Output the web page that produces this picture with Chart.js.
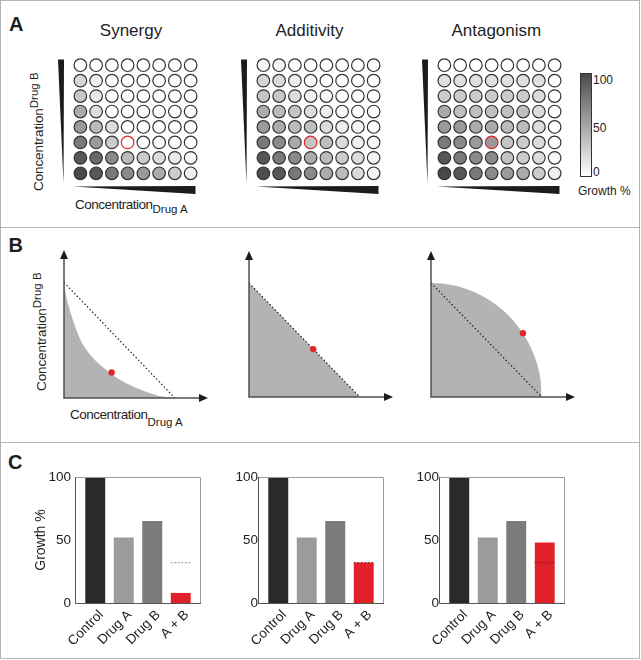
<!DOCTYPE html>
<html>
<head>
<meta charset="utf-8">
<title>Drug combination effects</title>
<script src="https://cdn.jsdelivr.net/npm/chart.js@4.4.1/dist/chart.umd.min.js"></script>
<style>
  html, body { margin: 0; padding: 0; background: #fff; }
  body {
    width: 641px; height: 660px; position: relative; overflow: hidden;
    font-family: "Liberation Sans", Arial, Helvetica, sans-serif; color: #1e1e1e;
  }
  canvas { position: absolute; }
  .frame { position: absolute; left: 0; top: 0; width: 638px; height: 657px; border: 1px solid #b4b4b4; }
  .rule { position: absolute; left: 0; width: 640px; height: 1px; background: #b4b4b4; }
  .txt { position: absolute; white-space: nowrap; line-height: 1; }
  .letter { font-weight: bold; font-size: 20px; }
  .title { font-size: 17px; transform: translate(-50%, -50%); }
  .conc { font-size: 13.5px; letter-spacing: -0.5px; }
  .conc sub, .conc sup { font-size: 11.5px; letter-spacing: 0; line-height: 0; }
  .rot { transform-origin: 0 0; transform: rotate(-90deg); letter-spacing: -0.1px; }
  .cbar { position: absolute; left: 580px; top: 73px; width: 10px; height: 102px;
          border: 1px solid #333; background: linear-gradient(#4b4b4b, #ffffff); }
  .cb { font-size: 12px; transform: translateY(-50%); }
</style>
</head>
<body>
<div class="frame"></div>
<div class="rule" style="top:227px"></div>
<div class="rule" style="top:442px"></div>

<div class="txt letter" style="left:9px;top:14.4px">A</div>
<div class="txt letter" style="left:8.5px;top:235.4px">B</div>
<div class="txt letter" style="left:8px;top:452.4px">C</div>

<div class="txt title" style="left:131px;top:29.5px">Synergy</div>
<div class="txt title" style="left:309.5px;top:29.5px">Additivity</div>
<div class="txt title" style="left:496.3px;top:29.5px">Antagonism</div>

<div class="txt conc" style="left:75px;top:197.9px">Concentration<sub style="vertical-align:-4px">Drug A</sub></div>
<div class="txt conc rot" style="left:32.4px;top:191px">Concentration<sup style="vertical-align:4.7px">Drug B</sup></div>
<div class="txt conc" style="left:70px;top:407.9px">Concentration<sub style="vertical-align:-7.4px">Drug A</sub></div>
<div class="txt conc rot" style="left:34.5px;top:391px">Concentration<sup style="vertical-align:4.7px">Drug B</sup></div>

<div class="cbar"></div>
<div class="txt cb" style="left:593px;top:80px">100</div>
<div class="txt cb" style="left:593px;top:127.5px">50</div>
<div class="txt cb" style="left:593px;top:172px">0</div>
<div class="txt cb" style="left:578px;top:191px">Growth %</div>

<script>
// ---- data ----
// panel A: growth % per well, top row = highest drug B, left column = lowest drug A
const synergyGrid = [
  [0, 0, 0, 0, 0, 0, 0, 0],
  [22, 9, 0, 0, 0, 0, 0, 0],
  [30, 12, 0, 0, 0, 0, 0, 0],
  [46, 19, 0, 0, 0, 0, 0, 0],
  [55, 37, 19, 0, 0, 0, 0, 0],
  [73, 55, 28, 0, 0, 0, 0, 0],
  [92, 82, 64, 37, 28, 19, 12, 4],
  [100, 92, 73, 64, 55, 46, 28, 9]
];
const additivityGrid = [
  [6, 6, 0, 0, 0, 0, 0, 0],
  [23, 21, 9, 2, 0, 0, 0, 0],
  [32, 30, 19, 9, 4, 0, 0, 0],
  [46, 37, 32, 19, 9, 3, 0, 0],
  [55, 46, 37, 35, 19, 9, 4, 0],
  [73, 64, 46, 32, 35, 19, 9, 3],
  [92, 73, 64, 46, 37, 28, 19, 6],
  [97, 92, 73, 64, 46, 37, 19, 6]
];
const antagonismGrid = [
  [0, 0, 0, 0, 0, 0, 0, 0],
  [17, 17, 17, 17, 17, 17, 17, 0],
  [28, 28, 28, 28, 28, 28, 19, 0],
  [46, 35, 35, 35, 35, 35, 19, 0],
  [55, 55, 46, 46, 37, 37, 19, 0],
  [73, 64, 55, 55, 32, 28, 19, 0],
  [92, 73, 64, 64, 32, 28, 19, 4],
  [100, 92, 73, 64, 55, 46, 28, 9]
];
const highlightWell = [5, 3]; // row, column

// panel B: isoboles (fraction of single-drug dose)
const synergyIsoX = [0, 0.02, 0.05, 0.1, 0.15, 0.2, 0.3, 0.4, 0.5, 0.6, 0.7, 0.8, 0.9, 1];
const synergyIsoY = [1, 0.88, 0.77, 0.62, 0.5, 0.42, 0.31, 0.23, 0.16, 0.11, 0.07, 0.035, 0.01, 0];
const additivityIsoX = [0, 1];
const additivityIsoY = [1, 0];
const antagonismIsoX = [0, 0.1, 0.2, 0.3, 0.4, 0.5, 0.6, 0.7, 0.8, 0.85, 0.9, 0.94, 0.97, 0.99, 1];
const antagonismIsoY = [1, 0.995, 0.98, 0.954, 0.917, 0.866, 0.8, 0.714, 0.6, 0.527, 0.436, 0.341, 0.243, 0.141, 0];
const additiveLineX = [0, 1];
const additiveLineY = [1, 0];
const comboPoints = [[0.43, 0.22], [0.58, 0.42], [0.83, 0.56]];

// panel C: growth %
const categories = ['Control', 'Drug A', 'Drug B', 'A + B'];
const synergyBars = [100, 52, 65, 8];
const additivityBars = [100, 52, 65, 32];
const antagonismBars = [100, 52, 65, 48];
const expectedAB = [32, 32, 32];
const growthTicks = [0, 50, 100];

// ---- styling ----
const FONT = '"Liberation Sans", Arial, Helvetica, sans-serif';
Chart.defaults.font.family = FONT;
Chart.defaults.color = '#1e1e1e';
const barColors = ['#2a2a2a', '#9b9b9b', '#7b7b7b', '#e2202a'];
const RED = '#e2242b';

function addCanvas(left, top, width, height) {
  const c = document.createElement('canvas');
  c.width = width; c.height = height;
  c.style.left = left + 'px'; c.style.top = top + 'px';
  c.style.width = width + 'px'; c.style.height = height + 'px';
  document.body.appendChild(c);
  return c;
}

function gray(v) {
  const g = Math.round(255 - v * 1.83);
  return `rgb(${g},${g},${g})`;
}

const baseOpts = {
  responsive: false,
  animation: false,
  events: [],
  plugins: { legend: { display: false }, tooltip: { enabled: false } }
};

// wedge shapes showing increasing concentration
const wedges = {
  id: 'wedges',
  afterDraw(chart) {
    const { ctx, chartArea: a } = chart;
    ctx.save();
    ctx.fillStyle = '#1c1c1c';
    ctx.beginPath();
    ctx.moveTo(a.left - 14.5, a.top + 2);
    ctx.lineTo(a.left - 8.5, a.top + 2);
    ctx.lineTo(a.left - 9, a.bottom + 3);
    ctx.closePath();
    ctx.fill();
    ctx.beginPath();
    ctx.moveTo(a.left + 0.5, a.bottom + 5.5);
    ctx.lineTo(a.right - 3, a.bottom + 5);
    ctx.lineTo(a.right - 3, a.bottom + 13);
    ctx.closePath();
    ctx.fill();
    ctx.restore();
  }
};

function makeGrid(left, grid) {
  const pts = [], fills = [], rings = [];
  grid.forEach((row, r) => row.forEach((v, c) => {
    pts.push({ x: c, y: grid.length - 1 - r });
    fills.push(gray(v));
    rings.push(r === highlightWell[0] && c === highlightWell[1] ? RED : '#333');
  }));
  new Chart(addCanvas(left, 50, 153, 150), {
    type: 'scatter',
    data: { datasets: [{
      data: pts,
      pointBackgroundColor: fills,
      pointBorderColor: rings,
      pointBorderWidth: 1.2,
      pointRadius: 6.3
    }] },
    options: {
      ...baseOpts,
      layout: { padding: { left: 19.5, top: 7, right: 5, bottom: 19 } },
      scales: {
        x: { display: false, min: -0.5, max: 7.5 },
        y: { display: false, min: -0.5, max: 7.5 }
      }
    },
    plugins: [wedges]
  });
}

makeGrid(53, synergyGrid);
makeGrid(236, additivityGrid);
makeGrid(417, antagonismGrid);

// axes with arrow heads
const arrowAxes = {
  id: 'arrowAxes',
  afterDraw(chart) {
    const { ctx, chartArea: a } = chart;
    ctx.save();
    ctx.strokeStyle = '#505050';
    ctx.lineWidth = 1.5;
    ctx.beginPath();
    ctx.moveTo(a.left, a.top + 8);
    ctx.lineTo(a.left, a.bottom);
    ctx.lineTo(a.right - 8, a.bottom);
    ctx.stroke();
    ctx.fillStyle = '#1c1c1c';
    ctx.beginPath();
    ctx.moveTo(a.left, a.top);
    ctx.lineTo(a.left - 4, a.top + 9);
    ctx.lineTo(a.left + 4, a.top + 9);
    ctx.closePath();
    ctx.fill();
    ctx.beginPath();
    ctx.moveTo(a.right, a.bottom);
    ctx.lineTo(a.right - 9, a.bottom - 4);
    ctx.lineTo(a.right - 9, a.bottom + 4);
    ctx.closePath();
    ctx.fill();
    ctx.restore();
  }
};

function makeIso(left, top, height, isoX, isoY, dot) {
  const toPts = (xs, ys) => xs.map((x, i) => ({ x, y: ys[i] }));
  new Chart(addCanvas(left, top, 172, height), {
    type: 'scatter',
    data: { datasets: [
      { data: [{ x: dot[0], y: dot[1] }], pointRadius: 3.2, pointBackgroundColor: RED, pointBorderWidth: 0, clip: false },
      { data: toPts(additiveLineX, additiveLineY), showLine: true, borderColor: '#222', borderWidth: 1.2,
        borderDash: [1.5, 2.2], pointRadius: 0 },
      { data: toPts(isoX, isoY), showLine: true, fill: 'origin', backgroundColor: '#b3b3b3',
        borderWidth: 0, borderColor: 'rgba(0,0,0,0)', pointRadius: 0, cubicInterpolationMode: 'monotone' }
    ] },
    options: {
      ...baseOpts,
      layout: { padding: { left: 14, top: 7, right: 14, bottom: 7 } },
      scales: {
        x: { display: false, min: 0, max: 1.3 },
        y: { display: false, min: 0, max: 1.28 }
      }
    },
    plugins: [arrowAxes]
  });
}

makeIso(50, 243, 162, synergyIsoX, synergyIsoY, comboPoints[0]);
makeIso(235, 244, 160, additivityIsoX, additivityIsoY, comboPoints[1]);
makeIso(417, 244, 160, antagonismIsoX, antagonismIsoY, comboPoints[2]);

// plot frame + expected additive growth marker on the A + B bar
const barFrame = {
  id: 'barFrame',
  afterDatasetsDraw(chart, args, opts) {
    const { ctx, chartArea: a, scales } = chart;
    ctx.save();
    ctx.lineWidth = 1;
    ctx.strokeStyle = '#9a9a9a';
    ctx.beginPath();
    ctx.moveTo(a.left - 5, a.top + 0.5);
    ctx.lineTo(a.right + 5.5, a.top + 0.5);
    ctx.lineTo(a.right + 5.5, a.bottom);
    ctx.stroke();
    ctx.strokeStyle = '#555';
    ctx.beginPath();
    ctx.moveTo(a.left - 5.5, a.top);
    ctx.lineTo(a.left - 5.5, a.bottom + 0.5);
    ctx.lineTo(a.right + 6, a.bottom + 0.5);
    ctx.stroke();
    const bar = chart.getDatasetMeta(0).data[3];
    const y = scales.y.getPixelForValue(opts.expected);
    ctx.strokeStyle = opts.color;
    ctx.setLineDash([2, 1.5]);
    ctx.beginPath();
    ctx.moveTo(bar.x - bar.width / 2, y);
    ctx.lineTo(bar.x + bar.width / 2, y);
    ctx.stroke();
    ctx.restore();
  }
};

function makeBars(left, values, expected, lineColor, tickPad, showTitle) {
  new Chart(addCanvas(left, 462, 190, 198), {
    type: 'bar',
    data: { labels: categories, datasets: [{
      data: values, backgroundColor: barColors, barPercentage: 0.7, categoryPercentage: 1
    }] },
    options: {
      ...baseOpts,
      plugins: { ...baseOpts.plugins, barFrame: { expected, color: lineColor } },
      layout: { padding: { left: 0, top: 15, right: 15, bottom: 0 } },
      scales: {
        x: {
          grid: { display: false, drawTicks: false },
          border: { display: false },
          ticks: { autoSkip: false, minRotation: 45, maxRotation: 45, padding: 4, labelOffset: 6,
                   font: { size: 13.5 } },
          afterFit: (s) => { s.height = 57; s.paddingLeft = 0; s.paddingRight = 0; }
        },
        y: {
          min: 0, max: 100,
          afterBuildTicks: (s) => { s.ticks = growthTicks.map((v) => ({ value: v })); },
          grid: { display: false, drawTicks: false },
          border: { display: false },
          ticks: { padding: tickPad, font: { size: 13.5 } },
          title: { display: showTitle, text: 'Growth %', font: { size: 14 }, padding: { top: 13, bottom: 0 } },
          afterFit: (s) => { s.width = 61; s.paddingTop = 0; s.paddingBottom = 0; }
        }
      }
    },
    plugins: [barFrame]
  });
}

makeBars(20, synergyBars, expectedAB[0], '#9a9a9a', 10, true);
makeBars(203, additivityBars, expectedAB[1], '#8a1a1a', 6, false);
makeBars(384, antagonismBars, expectedAB[2], '#8a1a1a', 6, false);
</script>
</body>
</html>
